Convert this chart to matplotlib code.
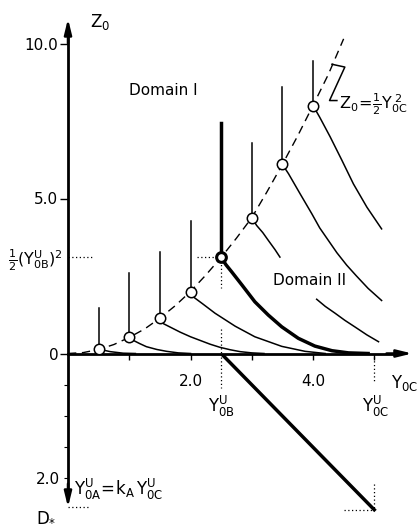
# Domain diagram: Z0 and D* against Y0C
import matplotlib.pyplot as plt

plt.rcParams['font.family'] = 'DejaVu Sans'
plt.rcParams['mathtext.default'] = 'regular'

# dashed boundary curve Z0 = 1/2 Y0C^2
para_y = [0, 0.25, 0.5, 0.75, 1.0, 1.25, 1.5, 1.75, 2.0, 2.25, 2.5, 2.75, 3.0, 3.25, 3.5, 3.75, 4.0, 4.25, 4.5]
para_z = [0, 0.03, 0.13, 0.29, 0.52, 0.79, 1.14, 1.54, 2.0, 2.53, 3.1, 3.72, 4.38, 5.22, 6.1, 7.02, 8.0, 9.0, 10.15]

# open circles and the vertical lines above them
circ_y = [0.5, 1.0, 1.5, 2.0, 3.0, 3.5, 4.0]
circ_z = [0.15, 0.52, 1.14, 2.0, 4.38, 6.1, 8.0]
stem_top = [1.48, 2.6, 3.26, 4.29, 6.8, 8.6, 9.45]

# point B (bold)
yb, zb, zb_top = 2.5, 3.1, 7.45
y_oc_u = 5.0

# decay curves from each circle (None = gap for the label)
curves = [
    ([0.5, 0.55, 0.69, 0.9, 1.1],
     [0.15, 0.12, 0.06, 0.01, 0.0]),
    ([1.0, 1.07, 1.17, 1.28, 1.45, 1.61, 1.8, 2.0],
     [0.52, 0.42, 0.32, 0.22, 0.13, 0.07, 0.02, 0.0]),
    ([1.5, 1.56, 1.7, 1.83, 2.0, 2.16, 2.32, 2.48, 2.65, 2.81, 3.0, 3.2],
     [1.14, 0.96, 0.82, 0.69, 0.54, 0.42, 0.3, 0.2, 0.12, 0.06, 0.02, 0.0]),
    ([2.0, 2.05, 2.2, 2.4, 2.73, 3.05, 3.49, 3.87, 4.2],
     [2.0, 1.82, 1.6, 1.3, 0.88, 0.54, 0.23, 0.07, 0.0]),
    ([3.0, 3.08, 3.18, 3.27, 3.38, 3.46, None, 4.06, 4.2, 4.36, 4.52, 4.69, 4.88, 5.07],
     [4.38, 4.13, 3.9, 3.65, 3.35, 3.11, None, 1.75, 1.52, 1.3, 1.07, 0.85, 0.6, 0.38]),
    ([3.5, 3.6, 3.79, 3.98, 4.11, 4.25, 4.39, 4.55, 4.71, 4.9, 5.12],
     [6.1, 5.8, 5.15, 4.51, 4.05, 3.65, 3.25, 2.85, 2.5, 2.1, 1.71]),
    ([4.0, 4.11, 4.28, 4.47, 4.66, 4.88, 5.12],
     [8.0, 7.62, 6.99, 6.24, 5.47, 4.72, 4.02]),
]
bold_y = [2.5, 2.58, 2.67, 2.84, 3.05, 3.27, 3.49, 3.76, 4.03, 4.31, 4.58, 4.9]
bold_z = [3.1, 2.86, 2.64, 2.21, 1.67, 1.24, 0.86, 0.49, 0.24, 0.09, 0.02, 0.0]

# lower part: D* line
d_y = [2.5, 5.0]
d_val = [0.0, 2.52]

xlim = (-68 / 61.25, 350 / 61.25)

fig = plt.figure(figsize=(4.18, 5.26), dpi=100)
ax = fig.add_axes([0, 172.5 / 526, 1, 353.5 / 526])
ax2 = fig.add_axes([0, 0, 1, 172.5 / 526])
for a in (ax, ax2):
    a.set_xlim(xlim)
    a.patch.set_alpha(0)
    a.spines['top'].set_visible(False)
    a.spines['right'].set_visible(False)
    a.spines['left'].set_position(('data', 0))
    a.spines['left'].set_linewidth(2)
ax.set_ylim(0, 353.5 / 31)
ax2.set_ylim(172.5 / 62, 0)
ax2.spines['bottom'].set_visible(False)
ax.spines['bottom'].set_position(('data', 0))
ax.spines['bottom'].set_linewidth(2)
ax.spines['left'].set_bounds(0, 10.5)
ax.spines['bottom'].set_bounds(0, 5.4)
ax2.spines['left'].set_bounds(0, 2.3)

ax.set_yticks([0, 5, 10])
ax.set_yticklabels(['0', '5.0', '10.0'])
ax.set_xticks([1, 2, 3, 4, 5])
ax.set_xticklabels(['', '2.0', '', '4.0', ''])
ax.tick_params(axis='y', direction='out', length=6, width=1, pad=1, labelsize=11)
ax.tick_params(axis='x', direction='out', length=4, width=1, pad=11, labelsize=11)
ax2.set_xticks([])
ax2.set_yticks([0.5, 1.0, 1.5, 2.0])
ax2.set_yticklabels(['', '', '', '2.0'])
ax2.tick_params(axis='y', direction='out', length=3, width=0.8, pad=3, labelsize=11)

arrow = dict(arrowstyle='-|>,head_width=0.22,head_length=0.9', color='k', lw=1.8, shrinkA=0, shrinkB=0)
ax.annotate('', xy=(0, 10.8), xytext=(0, 10.0), arrowprops=arrow, annotation_clip=False)
ax.annotate('', xy=(5.62, 0), xytext=(5.2, 0), arrowprops=arrow, annotation_clip=False)
ax2.annotate('', xy=(0, 2.48), xytext=(0, 2.1), arrowprops=arrow, annotation_clip=False)

# upper part
ax.plot(para_y, para_z, color='k', lw=1, ls=(0, (6, 4)))
for y, z, t in zip(circ_y, circ_z, stem_top):
    ax.plot([y, y], [z, t], color='k', lw=1.1)
for cy, cz in curves:
    ax.plot(cy, cz, color='k', lw=1.1)
ax.plot([yb, yb], [zb, zb_top], color='k', lw=2.5)
ax.plot(bold_y, bold_z, color='k', lw=2.5)
ax.plot(circ_y, circ_z, 'o', ms=7.5, mfc='white', mec='k', mew=1.1, zorder=5)
ax.plot([yb], [zb], 'o', ms=7, mfc='white', mec='k', mew=2.2, zorder=5)

dot = dict(color='k', lw=0.9, ls=(0, (1, 2)))
ax.plot([0, 0.42], [zb, zb], **dot)
ax.plot([2.1, yb], [zb, zb], **dot)
ax.plot([yb, yb], [zb, 2.1], **dot)
ax.plot([yb, yb], [0.8, 0], **dot)

# zigzag pointer for the curve label
ax.plot([4.31, 4.52, 4.27, 4.39], [9.33, 9.24, 8.16, 8.16], color='k', lw=1.1)
ax.text(4.42, 8.05, r'$Z_0\!=\!\frac{1}{2}Y_{0C}^{\ 2}$', fontsize=11.5, ha='left', va='center')

ax.text(0.36, 10.7, r'$Z_0$', fontsize=12, ha='left', va='center')
ax.text(1.55, 8.47, 'Domain I', fontsize=11, ha='center', va='center')
ax.text(3.95, 2.37, 'Domain II', fontsize=11, ha='center', va='center')
ax.text(-0.08, 3.0, r'$\frac{1}{2}(Y_{0B}^{U})^2$', fontsize=11.5, ha='right', va='center')

# lower part
ax2.plot(d_y, d_val, color='k', lw=2.5)
ax2.plot([yb, yb], [0.05, 0.55], **dot)
ax2.plot([y_oc_u, y_oc_u], [0.05, 0.46], **dot)
ax2.plot([y_oc_u, y_oc_u], [2.1, 2.52], **dot)
ax2.plot([4.5, y_oc_u], [2.52, 2.52], **dot)
ax2.plot([0, 0.33], [2.48, 2.48], **dot)

ax2.text(yb, 0.86, r'$Y_{0B}^{U}$', fontsize=12, ha='center', va='center')
ax2.text(5.03, 0.85, r'$Y_{0C}^{U}$', fontsize=12, ha='center', va='center')
ax2.text(5.5, 0.48, r'$Y_{0C}$', fontsize=12, ha='center', va='center')
ax2.text(-0.36, 2.62, r'$D_{*}$', fontsize=12, ha='center', va='center')
ax2.text(0.1, 2.2, r'$Y_{0A}^{U}\!=\!k_A\,Y_{0C}^{U}$', fontsize=12, ha='left', va='center')

plt.savefig('out.png', dpi=100)
